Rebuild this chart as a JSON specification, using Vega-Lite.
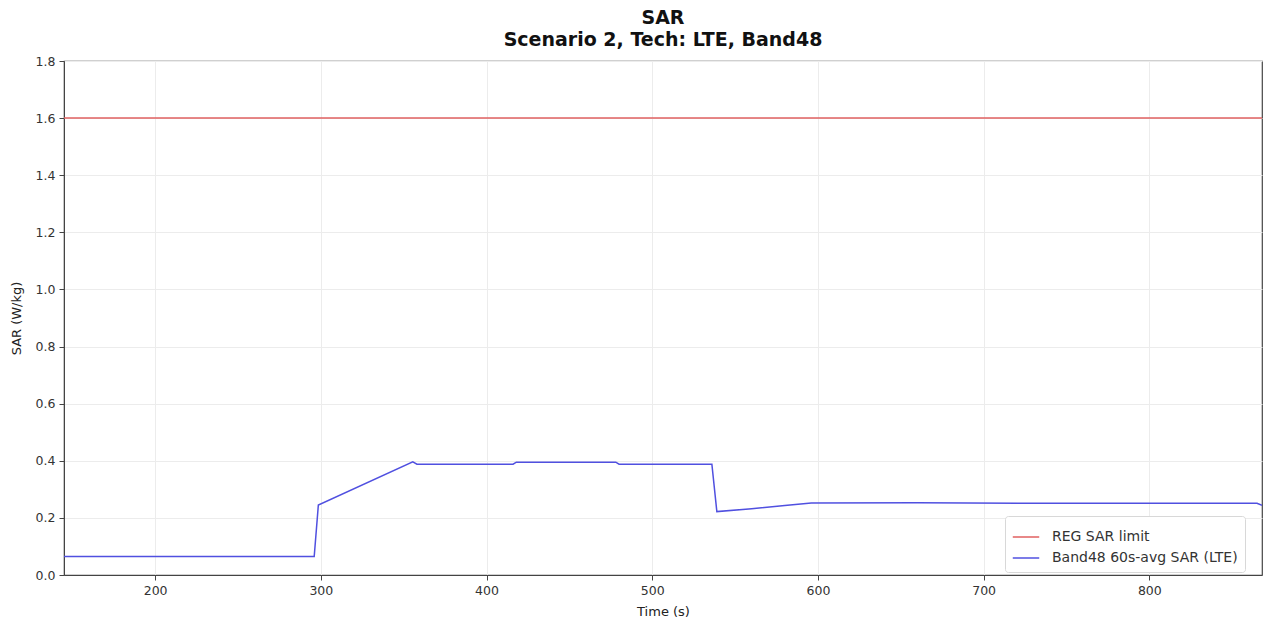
{
  "$schema": "https://vega.github.io/schema/vega-lite/v6.json",
  "width": 1198,
  "height": 514,
  "autosize": "none",
  "padding": {"left": 64, "top": 61, "right": 1, "bottom": 51},
  "background": "white",
  "config": {
    "font": "DejaVu Sans",
    "view": {"stroke": "#444", "strokeWidth": 1.2},
    "axis": {
      "labelFont": "DejaVu Sans", "labelFontSize": 12.5, "labelColor": "#333",
      "titleFont": "DejaVu Sans", "titleFontSize": 13, "titleFontWeight": "normal", "titleColor": "#222",
      "domainColor": "#444", "tickColor": "#444", "tickSize": 5, "labelPadding": 4,
      "gridColor": "#ececec", "gridWidth": 1
    }
  },
  "title": {
    "text": ["SAR", "Scenario 2, Tech: LTE, Band48"],
    "font": "DejaVu Sans", "fontSize": 19, "fontWeight": "bold", "color": "#111",
    "anchor": "middle", "lineHeight": 22, "offset": 5
  },
  "data": {
    "values": [
      {"t": 145, "sar": 1.6, "series": "REG SAR limit"},
      {"t": 868, "sar": 1.6, "series": "REG SAR limit"},
      {"t": 145, "sar": 0.065, "series": "Band48 60s-avg SAR (LTE)"},
      {"t": 296, "sar": 0.065, "series": "Band48 60s-avg SAR (LTE)"},
      {"t": 298.5, "sar": 0.245, "series": "Band48 60s-avg SAR (LTE)"},
      {"t": 355.5, "sar": 0.396, "series": "Band48 60s-avg SAR (LTE)"},
      {"t": 358, "sar": 0.388, "series": "Band48 60s-avg SAR (LTE)"},
      {"t": 416, "sar": 0.388, "series": "Band48 60s-avg SAR (LTE)"},
      {"t": 418, "sar": 0.395, "series": "Band48 60s-avg SAR (LTE)"},
      {"t": 478, "sar": 0.395, "series": "Band48 60s-avg SAR (LTE)"},
      {"t": 480, "sar": 0.388, "series": "Band48 60s-avg SAR (LTE)"},
      {"t": 536, "sar": 0.388, "series": "Band48 60s-avg SAR (LTE)"},
      {"t": 539, "sar": 0.222, "series": "Band48 60s-avg SAR (LTE)"},
      {"t": 560, "sar": 0.232, "series": "Band48 60s-avg SAR (LTE)"},
      {"t": 580, "sar": 0.243, "series": "Band48 60s-avg SAR (LTE)"},
      {"t": 596, "sar": 0.252, "series": "Band48 60s-avg SAR (LTE)"},
      {"t": 660, "sar": 0.253, "series": "Band48 60s-avg SAR (LTE)"},
      {"t": 750, "sar": 0.251, "series": "Band48 60s-avg SAR (LTE)"},
      {"t": 865, "sar": 0.251, "series": "Band48 60s-avg SAR (LTE)"},
      {"t": 868, "sar": 0.244, "series": "Band48 60s-avg SAR (LTE)"}
    ]
  },
  "mark": {"type": "line", "strokeWidth": 1.5, "clip": true},
  "encoding": {
    "x": {
      "field": "t", "type": "quantitative", "title": "Time (s)",
      "scale": {"domain": [145, 868], "nice": false, "zero": false},
      "axis": {"values": [200, 300, 400, 500, 600, 700, 800], "titlePadding": 9}
    },
    "y": {
      "field": "sar", "type": "quantitative", "title": "SAR (W/kg)",
      "scale": {"domain": [0, 1.8], "nice": false},
      "axis": {"values": [0, 0.2, 0.4, 0.6, 0.8, 1.0, 1.2, 1.4, 1.6, 1.8], "format": ".1f", "titlePadding": 12}
    },
    "color": {
      "field": "series", "type": "nominal",
      "scale": {"domain": ["REG SAR limit", "Band48 60s-avg SAR (LTE)"], "range": ["#e06060", "#5050e0"]},
      "legend": {
        "title": null, "orient": "none", "legendX": 941, "legendY": 455,
        "symbolType": "stroke", "symbolSize": 700, "symbolStrokeWidth": 1.5, "labelOffset": 12,
        "labelFont": "DejaVu Sans", "labelFontSize": 14, "labelColor": "#333", "labelLimit": 400,
        "fillColor": "white", "strokeColor": "#d8d8d8", "padding": 7, "rowPadding": -6, "cornerRadius": 3
      }
    }
  }
}
